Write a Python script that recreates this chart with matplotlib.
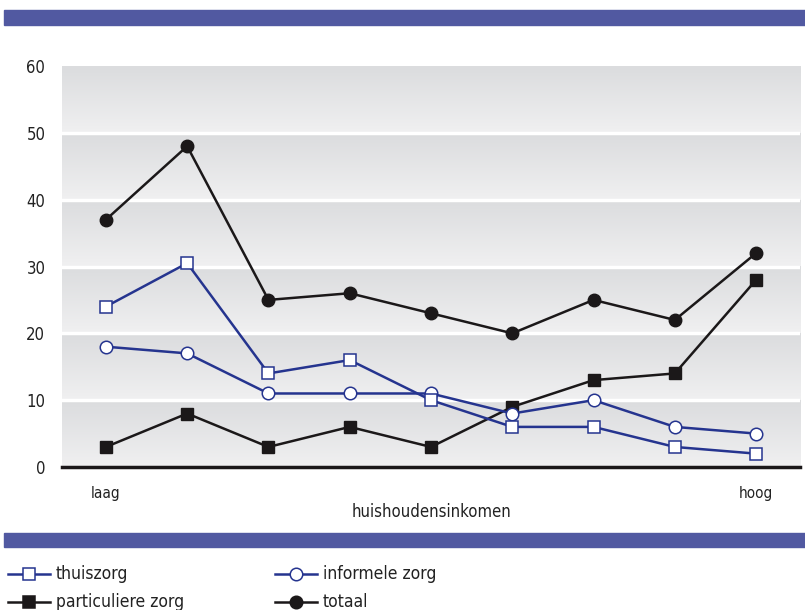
import numpy as np
import matplotlib.pyplot as plt
from matplotlib.patches import Rectangle
from matplotlib.colors import LinearSegmentedColormap

plt.rcParams['font.family'] = ['DejaVu Sans']
plt.rcParams['font.stretch'] = 'condensed'

# inkomensgroepen van laag naar hoog
groepen = list(range(9))
tick_labels = ['laag', '', '', '', '', '', '', '', 'hoog']

thuiszorg = [24, 30.5, 14, 16, 10, 6, 6, 3, 2]
informele_zorg = [18, 17, 11, 11, 11, 8, 10, 6, 5]
particuliere_zorg = [3, 8, 3, 6, 3, 9, 13, 14, 28]
totaal = [37, 48, 25, 26, 23, 20, 25, 22, 32]

blauw = '#25348f'
zwart = '#1b1819'
paars = '#5159a1'
tekst = '#222222'

fig = plt.figure(figsize=(8.05, 6.10), dpi=100)
W, H = 805, 610
ax = fig.add_axes([62 / W, 1 - 467 / H, (800 - 62) / W, (467 - 66) / H])

xmin, xmax = -0.54, 8.54
ax.set_xlim(xmin, xmax)
ax.set_ylim(0, 60)

# grijze banden met verloop
grad = np.linspace(0, 1, 100).reshape(-1, 1)
cmap = LinearSegmentedColormap.from_list('band', ['#f0f0f1', '#dbdcde'])
for lo in range(0, 60, 10):
    ax.imshow(grad, extent=(xmin, xmax, lo, lo + 10), aspect='auto',
              cmap=cmap, origin='lower', zorder=0)
for y in range(10, 60, 10):
    ax.axhline(y, color='white', lw=2.5, zorder=1)
ax.axhline(0, color=zwart, lw=2.5, zorder=5, clip_on=False)

lw = 1.8
ax.plot(groepen, totaal, color=zwart, lw=lw, marker='o', ms=9,
        mfc=zwart, mec=zwart, zorder=3)
ax.plot(groepen, particuliere_zorg, color=zwart, lw=lw, marker='s', ms=8,
        mfc=zwart, mec=zwart, zorder=3)
ax.plot(groepen, informele_zorg, color=blauw, lw=lw, marker='o', ms=9,
        mfc='white', mec=blauw, mew=1.1, zorder=4)
ax.plot(groepen, thuiszorg, color=blauw, lw=lw, marker='s', ms=8,
        mfc='white', mec=blauw, mew=1.1, zorder=4)

for s in ax.spines.values():
    s.set_visible(False)
ax.set_yticks(range(0, 70, 10))
ax.set_xticks(groepen)
ax.set_xticklabels(tick_labels, fontsize=11, color=tekst)
ax.tick_params(length=0)
ax.tick_params(axis='y', pad=12, labelsize=12, labelcolor=tekst)
ax.tick_params(axis='x', pad=14)
ax.set_xlabel('huishoudensinkomen', fontsize=12, color=tekst, labelpad=1)

# paarse balken boven en onder
fig.patches.append(Rectangle((4 / W, 1 - 25 / H), 1, 15 / H,
                             transform=fig.transFigure, color=paars, zorder=0))
fig.patches.append(Rectangle((4 / W, 1 - 547 / H), 1, 14 / H,
                             transform=fig.transFigure, color=paars, zorder=0))

# legenda
items = [
    ('thuiszorg', blauw, 's', 'white', 8, 574),
    ('informele zorg', blauw, 'o', 'white', 275, 574),
    ('particuliere zorg', zwart, 's', zwart, 8, 602),
    ('totaal', zwart, 'o', zwart, 275, 602),
]
for label, kleur, mk, fc, x0, y0 in items:
    yf = 1 - y0 / H
    fig.add_artist(plt.Line2D([x0 / W, (x0 + 42) / W], [yf, yf], color=kleur,
                              lw=lw, transform=fig.transFigure))
    fig.add_artist(plt.Line2D([(x0 + 21) / W], [yf], color=kleur, marker=mk,
                              ms=8 if mk == 's' else 9, mfc=fc, mec=kleur,
                              mew=1.1, transform=fig.transFigure))
    fig.text((x0 + 48) / W, yf, label, fontsize=12.5, color=tekst,
             va='center', ha='left')

fig.savefig('out.png', dpi=100)
